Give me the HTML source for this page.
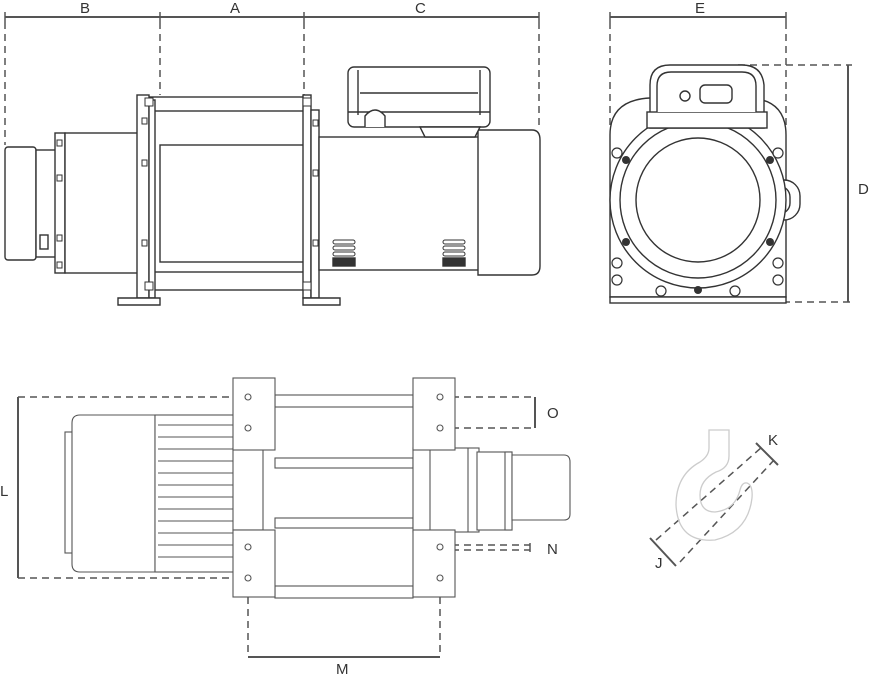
<!DOCTYPE html>
<html><head><meta charset="utf-8"><style>
html,body{margin:0;padding:0;background:#fff}
svg{display:block}
text{font-family:"Liberation Sans",sans-serif;font-size:15px;fill:#333}
</style></head><body>
<svg width="871" height="675" viewBox="0 0 871 675" xmlns="http://www.w3.org/2000/svg">
<g stroke="#555" fill="none">
<!-- top dims -->
<line x1="5" y1="17" x2="539" y2="17" stroke-width="2"/>
<line x1="610" y1="17" x2="786" y2="17" stroke-width="2"/>
<g stroke-width="1.5">
<line x1="5" y1="12" x2="5" y2="22"/><line x1="160" y1="12" x2="160" y2="22"/><line x1="304" y1="12" x2="304" y2="22"/><line x1="539" y1="12" x2="539" y2="22"/>
<line x1="610" y1="12" x2="610" y2="22"/><line x1="786" y1="12" x2="786" y2="22"/>
</g>
<g stroke-width="1.5" stroke-dasharray="7,5">
<line x1="5" y1="22" x2="5" y2="145"/><line x1="160" y1="22" x2="160" y2="95"/><line x1="304" y1="22" x2="304" y2="95"/><line x1="539" y1="22" x2="539" y2="130"/>
<line x1="610" y1="22" x2="610" y2="130"/><line x1="786" y1="22" x2="786" y2="130"/>
<line x1="738" y1="65" x2="852" y2="65"/><line x1="783" y1="302" x2="852" y2="302"/>
<line x1="18" y1="397" x2="248" y2="397"/><line x1="18" y1="578" x2="248" y2="578"/>
<line x1="440" y1="397" x2="535" y2="397"/><line x1="440" y1="428" x2="535" y2="428"/>
<line x1="440" y1="545" x2="530" y2="545"/><line x1="440" y1="550" x2="530" y2="550"/>
<line x1="248" y1="597" x2="248" y2="657"/><line x1="440" y1="597" x2="440" y2="657"/>
<line x1="656" y1="540" x2="762" y2="447"/><line x1="680" y1="562" x2="774" y2="460"/>
</g>
<line x1="848" y1="65" x2="848" y2="302" stroke-width="2"/>
<line x1="18" y1="397" x2="18" y2="578" stroke-width="2"/>
<line x1="535" y1="397" x2="535" y2="428" stroke-width="2"/>
<line x1="530" y1="543" x2="530" y2="552" stroke-width="1.5"/>
<line x1="248" y1="657" x2="440" y2="657" stroke-width="2"/>
<line x1="650" y1="538" x2="676" y2="566" stroke-width="2"/>
<line x1="756" y1="443" x2="778" y2="465" stroke-width="2"/>
</g>
<text x="80" y="13">B</text><text x="230" y="13">A</text><text x="415" y="13">C</text><text x="695" y="13">E</text>
<text x="858" y="194">D</text><text x="0" y="496">L</text><text x="547" y="418">O</text><text x="547" y="554">N</text>
<text x="336" y="674">M</text><text x="768" y="445">K</text><text x="655" y="568">J</text>

<!-- side view -->
<g stroke="#333" stroke-width="1.4" fill="#fff">
<rect x="5" y="147" width="31" height="113" rx="3"/>
<rect x="36" y="150" width="20" height="107"/>
<rect x="40" y="235" width="8" height="14"/>
<rect x="55" y="133" width="10" height="140"/>
<rect x="65" y="133" width="75" height="140"/>
<rect x="150" y="97" width="155" height="14"/>
<rect x="150" y="272" width="155" height="18"/>
<rect x="160" y="145" width="145" height="117"/>
<rect x="137" y="95" width="12" height="203"/>
<rect x="149" y="100" width="6" height="198"/>
<path d="M118 298 H160 V305 H118 Z"/>
<rect x="303" y="95" width="8" height="203"/>
<rect x="311" y="110" width="8" height="188"/>
<path d="M303 298 H340 V305 H303 Z"/>
<rect x="319" y="137" width="160" height="133"/>
<path d="M478 130 H532 Q540 130 540 140 V266 Q540 275 532 275 H478 Z"/>
<rect x="348" y="67" width="142" height="60" rx="6"/>
<line x1="348" y1="112" x2="490" y2="112"/>
<line x1="358" y1="70" x2="358" y2="115"/><line x1="480" y1="70" x2="480" y2="115"/>
<line x1="360" y1="93" x2="478" y2="93"/>
<path d="M365 127 V116 Q375 104 385 116 V127"/>
<path d="M420 127 H480 L475 137 H425 Z"/>
<g fill="#fff" stroke-width="1">
<rect x="145" y="98" width="8" height="8"/><rect x="145" y="282" width="8" height="8"/>
<rect x="303" y="98" width="8" height="8"/><rect x="303" y="282" width="8" height="8"/>
<rect x="142" y="118" width="5" height="6"/><rect x="142" y="160" width="5" height="6"/><rect x="142" y="240" width="5" height="6"/>
<rect x="313" y="120" width="5" height="6"/><rect x="313" y="170" width="5" height="6"/><rect x="313" y="240" width="5" height="6"/>
<rect x="57" y="140" width="5" height="6"/><rect x="57" y="175" width="5" height="6"/><rect x="57" y="235" width="5" height="6"/><rect x="57" y="262" width="5" height="6"/>
</g>
<g stroke-width="1">
<rect x="333" y="252" width="22" height="4" rx="2"/><rect x="333" y="246" width="22" height="4" rx="2"/><rect x="333" y="240" width="22" height="4" rx="2"/>
<rect x="443" y="252" width="22" height="4" rx="2"/><rect x="443" y="246" width="22" height="4" rx="2"/><rect x="443" y="240" width="22" height="4" rx="2"/>
</g>
<rect x="333" y="258" width="22" height="8" fill="#333"/>
<rect x="443" y="258" width="22" height="8" fill="#333"/>
</g>

<!-- front view -->
<g stroke="#333" stroke-width="1.4" fill="#fff">
<path d="M610 135 Q610 100 650 98 L750 98 Q786 100 786 135 V297 H610 Z"/>
<rect x="610" y="297" width="176" height="6"/>
<rect x="768" y="180" width="32" height="40" rx="16"/>
<rect x="768" y="186" width="22" height="28" rx="11"/>
<circle cx="698" cy="200" r="88"/>
<circle cx="698" cy="200" r="78"/>
<circle cx="698" cy="200" r="62"/>
<path d="M650 128 V85 Q650 65 670 65 H742 Q762 65 764 85 V128 Z"/>
<rect x="647" y="112" width="120" height="16"/>
<path d="M657 112 V86 Q657 72 671 72 H742 Q756 72 756 86 V112"/>
<rect x="700" y="85" width="32" height="18" rx="5"/>
<circle cx="685" cy="96" r="5"/>
<g fill="#fff" stroke-width="1.2">
<circle cx="617" cy="153" r="5"/><circle cx="778" cy="153" r="5"/>
<circle cx="617" cy="263" r="5"/><circle cx="778" cy="263" r="5"/>
<circle cx="661" cy="291" r="5"/><circle cx="735" cy="291" r="5"/>
<circle cx="617" cy="280" r="5"/><circle cx="778" cy="280" r="5"/>
</g>
<g fill="#333" stroke="none">
<circle cx="626" cy="160" r="4"/><circle cx="770" cy="160" r="4"/>
<circle cx="626" cy="242" r="4"/><circle cx="770" cy="242" r="4"/>
<circle cx="698" cy="290" r="4"/>
</g>
</g>

<!-- bottom view -->
<g stroke="#555" stroke-width="1.1" fill="#fff">
<rect x="65" y="432" width="10" height="121"/>
<path d="M80 415 H155 V572 H80 Q72 572 72 564 V423 Q72 415 80 415 Z"/>
<rect x="155" y="415" width="80" height="157"/>
<g stroke-width="1">
<line x1="158" y1="425" x2="233" y2="425"/><line x1="158" y1="437" x2="233" y2="437"/>
<line x1="158" y1="449" x2="255" y2="449"/><line x1="158" y1="461" x2="255" y2="461"/>
<line x1="158" y1="473" x2="255" y2="473"/><line x1="158" y1="485" x2="255" y2="485"/>
<line x1="158" y1="497" x2="255" y2="497"/><line x1="158" y1="509" x2="255" y2="509"/>
<line x1="158" y1="521" x2="255" y2="521"/><line x1="158" y1="533" x2="233" y2="533"/>
<line x1="158" y1="545" x2="233" y2="545"/><line x1="158" y1="557" x2="233" y2="557"/>
</g>
<rect x="233" y="448" width="30" height="82"/>
<rect x="275" y="395" width="138" height="12"/>
<rect x="275" y="458" width="138" height="10"/>
<rect x="275" y="518" width="138" height="10"/>
<rect x="275" y="586" width="138" height="12"/>
<rect x="413" y="448" width="66" height="84"/>
<line x1="430" y1="448" x2="430" y2="532"/><line x1="468" y1="448" x2="468" y2="532"/>
<rect x="477" y="452" width="35" height="78"/>
<rect x="505" y="452" width="7" height="78"/>
<path d="M512 455 H564 Q570 455 570 462 V514 Q570 520 564 520 H512 Z"/>
<rect x="233" y="378" width="42" height="72"/>
<rect x="233" y="530" width="42" height="67"/>
<rect x="413" y="378" width="42" height="72"/>
<rect x="413" y="530" width="42" height="67"/>
<g stroke-width="1.1">
<circle cx="248" cy="397" r="3"/><circle cx="248" cy="428" r="3"/><circle cx="248" cy="547" r="3"/><circle cx="248" cy="578" r="3"/>
<circle cx="440" cy="397" r="3"/><circle cx="440" cy="428" r="3"/><circle cx="440" cy="547" r="3"/><circle cx="440" cy="578" r="3"/>
</g>
</g>

<!-- hook -->
<g stroke="#ccc" stroke-width="1.3" fill="none">
<path d="M709 430 H729 V456 Q729 468 716 472 Q700 480 700 495 Q700 512 715 512 Q735 510 740 490 Q742 482 747 483 Q753 485 752 498 Q748 532 715 540 Q678 543 676 505 Q676 475 700 462 Q709 456 709 448 Z"/>
</g>
</svg>
</body></html>
